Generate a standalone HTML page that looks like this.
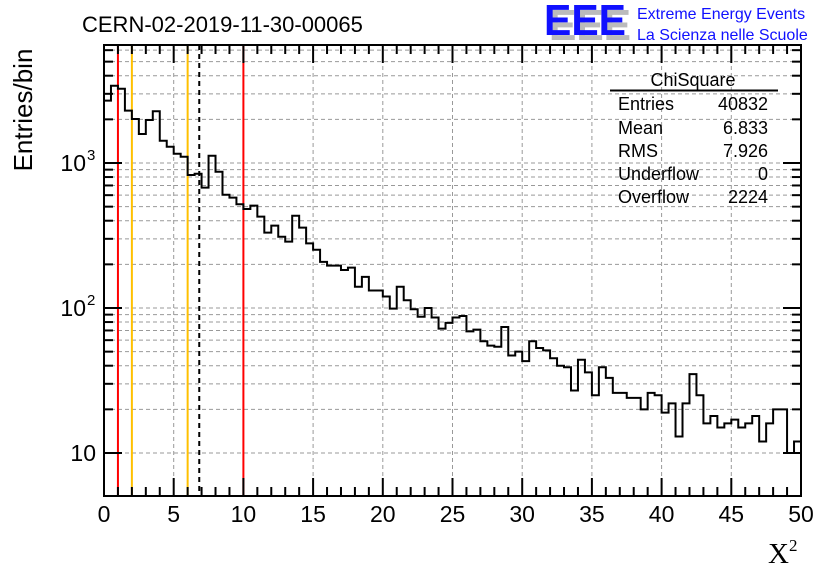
<!DOCTYPE html>
<html><head><meta charset="utf-8"><style>
html,body{margin:0;padding:0;background:#fff;}
svg{display:block;font-family:"Liberation Sans",sans-serif;}
</style></head><body>
<svg id="c" width="836" height="572" viewBox="0 0 836 572">
<rect width="836" height="572" fill="#fff"/>
<g id="grid"></g>
<g id="lines"></g>
<path id="hist" fill="none" stroke="#000" stroke-width="2"/>
<g id="axes"></g>
<text x="82" y="32" font-size="22">CERN-02-2019-11-30-00065</text>
<g>
<text x="549" y="40" font-size="44" font-weight="bold" fill="#bbb" textLength="82" lengthAdjust="spacingAndGlyphs">EEE</text>
<text x="544" y="35" font-size="44" font-weight="bold" fill="#1010ff" textLength="82" lengthAdjust="spacingAndGlyphs">EEE</text>
<text x="637" y="19" font-size="16" fill="#1010ff">Extreme Energy Events</text>
<text x="637" y="40" font-size="16" fill="#1010ff">La Scienza nelle Scuole</text>
</g>
<g font-size="18">
<text x="693" y="86" text-anchor="middle">ChiSquare</text>
<line x1="610" y1="90.5" x2="778" y2="90.5" stroke="#000" stroke-width="2"/>
<text x="618" y="110">Entries</text><text x="768" y="110" text-anchor="end">40832</text>
<text x="618" y="134">Mean</text><text x="768" y="134" text-anchor="end">6.833</text>
<text x="618" y="157">RMS</text><text x="768" y="157" text-anchor="end">7.926</text>
<text x="618" y="180">Underflow</text><text x="768" y="180" text-anchor="end">0</text>
<text x="618" y="203">Overflow</text><text x="768" y="203" text-anchor="end">2224</text>
</g>
<text transform="translate(32,110) rotate(-90)" text-anchor="middle" font-size="26">Entries/bin</text>
<text x="768" y="563" font-size="29" font-family="Liberation Serif,serif">X<tspan font-size="17" dy="-12">2</tspan></text>
</svg>
<script>
const counts=[2691,3412,3252,2295,2010,1585,1981,2274,1425,1295,1159,1105,827,843,676,1122,871,604,577,519,482,508,427,331,370,310,287,433,358,279,252,208,196,196,183,190,140,164,132,132,120,99,140,113,98,87,100,86,72,79,86,88,69,71,59,55,54,74,47,50,43,59,53,51,45,40,39,27,44,36,25,39,33,26,26,24,24,20,26,25,19,22,13,22,35,25,16,18,15,16,17,15,16,18,12,16,20,20,10,12];
const xTicks=[0,5,10,15,20,25,30,35,40,45,50];
const yMajor=[10,100,1000];
const yLabels=["10","10","10"];
const yExp=["","2","3"];
const redLines=[1,10];
const orangeLines=[2,6];
const meanLine=[6.833];
const X0=104,X1=801,Y0=45,Y1=496,XMIN=0,XMAX=50;
const LMIN=Math.log10(10)-(496-453)/145, LMAX=3+(163-45)/145;
const sx=v=>X0+(v-XMIN)/(XMAX-XMIN)*(X1-X0);
const sy=v=>Y1-(Math.log10(v)-LMIN)/(LMAX-LMIN)*(Y1-Y0);
const NS='http://www.w3.org/2000/svg';
function mk(p,t,a){const e=document.createElementNS(NS,t);for(const k in a)e.setAttribute(k,a[k]);p.appendChild(e);return e;}
const grid=document.getElementById('grid'),axes=document.getElementById('axes'),lines=document.getElementById('lines');
const gs={stroke:'#999','stroke-width':1,'stroke-dasharray':'4,3'};
xTicks.forEach(v=>{if(v>XMIN&&v<XMAX){const l=mk(grid,'line',Object.assign({x1:sx(v),x2:sx(v),y1:Y0,y2:Y1},gs));

}});
for(let d=1;d<=3;d++){for(let m=1;m<=9;m++){const v=m*Math.pow(10,d);const y=sy(v);if(y<Y0||y>Y1)continue;
const l=mk(grid,'line',Object.assign({x1:X0,x2:X1,y1:y,y2:y},gs));


const big=(m===1)?18:9;
mk(axes,'line',{x1:X0,x2:X0+big,y1:y,y2:y,stroke:'#000','stroke-width':2});
mk(axes,'line',{x1:X1-big,x2:X1,y1:y,y2:y,stroke:'#000','stroke-width':2});}}
for(let v=XMIN;v<=XMAX;v++){const big=v%5===0?18:9;
mk(axes,'line',{x1:sx(v),x2:sx(v),y1:Y1,y2:Y1-big,stroke:'#000','stroke-width':2});
mk(axes,'line',{x1:sx(v),x2:sx(v),y1:Y0,y2:Y0+big,stroke:'#000','stroke-width':2});}
function vline(v,color,dash,name){const l=mk(lines,'line',{x1:sx(v),x2:sx(v),y1:Y0,y2:Y1,stroke:color,'stroke-width':2});if(dash)l.setAttribute('stroke-dasharray',dash);

}
redLines.forEach(v=>vline(v,'#ff0000',null,'red-cut-line'));
orangeLines.forEach(v=>vline(v,'#ffc000',null,'orange-cut-line'));
meanLine.forEach(v=>vline(v,'#000','5,4','mean-line'));
const bw=(XMAX-XMIN)/counts.length;let d='M'+X0+','+sy(counts[0]);
counts.forEach((c,i)=>{const y=Math.max(Y0,Math.min(Y1,sy(c)));d+=' L'+sx(XMIN+i*bw)+','+y+' L'+sx(XMIN+(i+1)*bw)+','+y;});
d+=' L'+X1+','+Y1;
document.getElementById('hist').setAttribute('d',d);
mk(axes,'rect',{x:X0,y:Y0,width:X1-X0,height:Y1-Y0,fill:'none',stroke:'#000','stroke-width':2});
xTicks.forEach(v=>{const t=mk(axes,'text',{x:sx(v),y:522,'text-anchor':'middle','font-size':23});t.textContent=v;

});
yMajor.forEach((v,i)=>{const y=sy(v);const t=mk(axes,'text',{x:yExp[i]?86:96,y:y+8,'text-anchor':'end','font-size':23});t.textContent=yLabels[i];


if(yExp[i]){const s=mk(axes,'text',{x:87,y:y-3,'font-size':15});s.textContent=yExp[i];}});
</script>
</body></html>
